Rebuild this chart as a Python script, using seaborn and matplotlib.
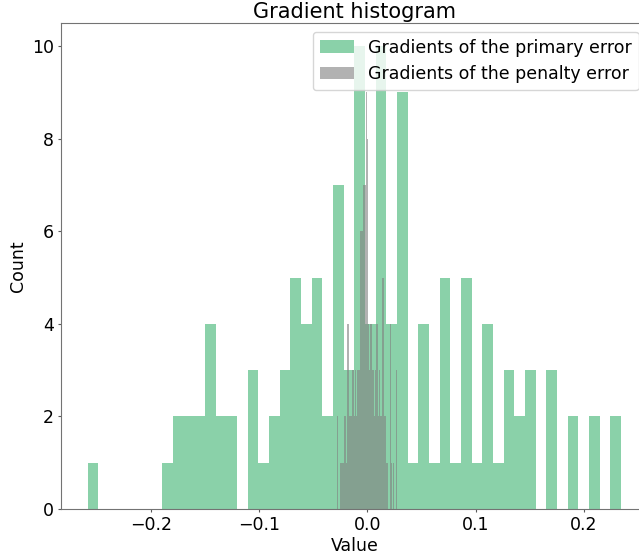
import numpy as np
import pandas as pd
import matplotlib
matplotlib.use("Agg")
import matplotlib.pyplot as plt
import seaborn as sns

# histogram counts (50 bins each)
primary_range = (-0.2582, 0.2342)
primary_counts = [1, 0, 0, 0, 0, 0, 0, 1, 2, 2,
                  2, 4, 2, 2, 0, 3, 1, 2, 3, 5,
                  4, 5, 2, 7, 3, 10, 4, 10, 4, 9,
                  1, 4, 1, 5, 1, 5, 1, 4, 1, 3,
                  2, 3, 0, 3, 0, 2, 0, 2, 0, 2]

penalty_range = (-0.0283, 0.0272)
penalty_counts = [2, 0, 0, 1, 1, 1, 2, 2, 1, 4,
                  2, 2, 2, 3, 2, 3, 2, 3, 3, 6,
                  6, 6, 7, 7, 9, 8, 4, 3, 4, 3,
                  3, 2, 3, 4, 2, 3, 2, 2, 5, 2,
                  2, 1, 1, 0, 4, 1, 0, 1, 0, 3]

labels = ['Gradients of the primary error', 'Gradients of the penalty error']

plt.rcParams['font.size'] = 12.5

fig = plt.figure(figsize=(6.39, 5.57), dpi=100)
ax = fig.add_axes([0.0955, 0.0862, 0.918, 0.8725])

for rng, counts, col, lab in [(primary_range, primary_counts, '#3cb371', labels[0]),
                              (penalty_range, penalty_counts, 'gray', labels[1])]:
    edges = np.linspace(rng[0], rng[1], len(counts) + 1)
    df = pd.DataFrame({'value': (edges[:-1] + edges[1:]) / 2, 'n': counts})
    sns.histplot(data=df, x='value', weights='n', bins=list(edges), ax=ax,
                 color=col, alpha=0.6, linewidth=0, label=lab)

ax.set_title('Gradient histogram', pad=3.4)
ax.set_xlabel('Value', labelpad=2)
ax.set_ylabel('Count', labelpad=3)
ax.tick_params(length=2.5, pad=2.8, color='0.35')
for s in ax.spines.values():
    s.set_color('0.45')
ax.legend(loc='upper right')

fig.savefig('out.png', dpi=100)
